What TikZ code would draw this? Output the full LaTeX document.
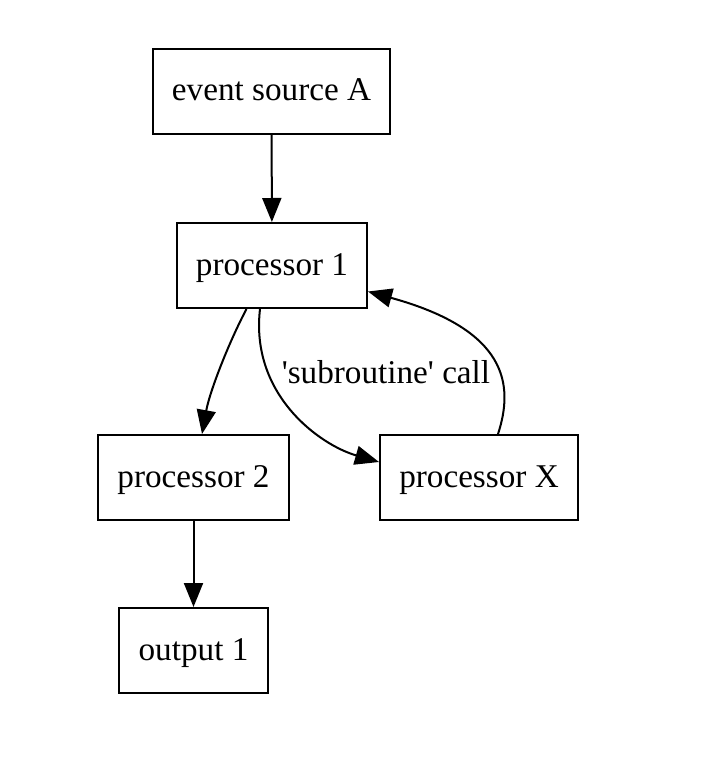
\documentclass[tikz,border=0pt]{standalone}
\usepackage{fontspec}
\setmainfont{Liberation Serif}
\usetikzlibrary{arrows.meta,calc}

\begin{document}
\begin{tikzpicture}[x=0.5pt,y=-0.5pt,line width=1pt,
  box/.style={rectangle,draw,minimum height=42.5pt,inner sep=0pt,text height=11pt,text depth=1.5pt,font=\fontsize{16.6}{20}\selectfont},
  arr/.style={-{Triangle[length=12pt,width=9.5pt]}}]
\useasboundingbox (0,0) rectangle (704,759);
\path (271.5,91.5) node[box,minimum width=118.5pt] (src) {event source A};
\path (272,265.5) node[box,minimum width=95pt] (p1) {processor 1};
\path (193.5,477.5) node[box,minimum width=95.5pt] (p2) {processor 2};
\path (479,477.5) node[box,minimum width=99pt] (px) {processor X};
\path (193.5,650.5) node[box,minimum width=74.5pt] (out1) {output 1};

\draw[arr] (src) -- (p1);
\draw[arr] ($(p1.south)+(-25.5,0)$) .. controls (230,340) and (210,390) .. ($(p2.north)+(8.5,0)$);
\draw[arr] ($(p1.south)+(-12,0)$) .. controls (250,395) and (320,445) .. ($(px.west)+(0,-15.5)$);
\path (386,372) node[font=\fontsize{16.6}{20}\selectfont] (lbl) {\textquotesingle subroutine\textquotesingle{} call};
\draw[arr] ($(px.north)+(19,0)$) .. controls (514,385) and (508,330) .. ($(p1.east)+(0,26)$);
\draw[arr] (p2) -- (out1);
\end{tikzpicture}
\end{document}
